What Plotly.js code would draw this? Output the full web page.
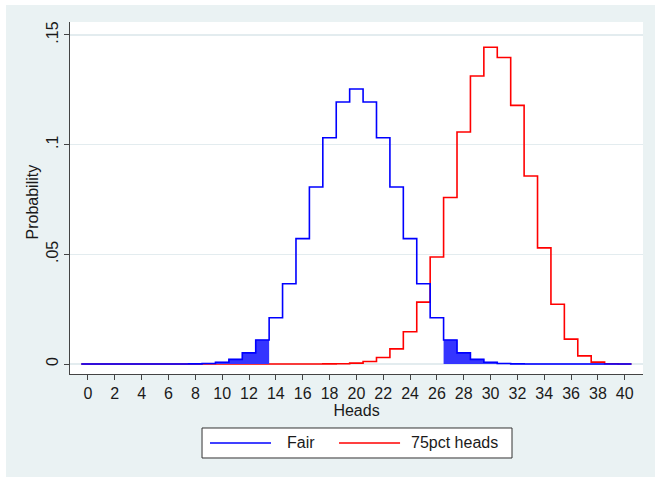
<!DOCTYPE html>
<html>
<head>
<meta charset="utf-8">
<script src="https://cdn.plot.ly/plotly-3.0.1.min.js"></script>
<style>
  html, body { margin: 0; padding: 0; background: #ffffff; }
  #chart { position: absolute; left: 6px; top: 5px; width: 649px; height: 472px; }
</style>
</head>
<body>
<div id="chart"></div>
<script>
// Number of heads in 40 tosses
const heads = [0,1,2,3,4,5,6,7,8,9,10,11,12,13,14,15,16,17,18,19,20,
               21,22,23,24,25,26,27,28,29,30,31,32,33,34,35,36,37,38,39,40];

// Probability of each count for a fair coin
const fair = [0,0,0,0,0,0,0.0000035,0.000017,0.00007,0.00025,0.00077,
              0.0021,0.00508,0.01094,0.02111,0.03658,0.05716,0.0807,0.10312,0.1194,0.12537,
              0.1194,0.10312,0.0807,0.05716,0.03658,0.02111,0.01094,0.00508,0.0021,0.00077,
              0.00025,0.00007,0.000017,0.0000035,0,0,0,0,0,0];

// Probability of each count for a coin that lands heads 75% of the time
const biased = [0,0,0,0,0,0,0,0,0,0,0,
                0,0,0,0,0,0.000002,0.00001,0.00004,0.00013,0.0004,
                0.00114,0.00294,0.00691,0.01468,0.02819,0.0488,0.07591,0.10573,0.13125,0.14437,
                0.13971,0.11788,0.08573,0.05295,0.02723,0.01135,0.00368,0.00087,0.00013,0.00001];

// Series names and colours, in legend order
const seriesNames = ['Fair', '75pct heads'];
const seriesColors = ['#0000ff', '#ff0000'];

// Shaded tails of the fair distribution
const lowTailMax = 13;
const highTailMin = 27;

const yTicks = [0, 0.05, 0.1, 0.15];
const yTickText = ['0', '.05', '.1', '.15'];
const xTicks = [0,2,4,6,8,10,12,14,16,18,20,22,24,26,28,30,32,34,36,38,40];

// Bars are one unit wide and centred on each count: build stair-step edges
function steps(xs, ys) {
  const sx = xs.map(v => v - 0.5);
  const sy = ys.slice();
  sx.push(xs[xs.length - 1] + 0.5);
  sy.push(ys[ys.length - 1]);
  return { x: sx, y: sy };
}

const fairSteps = steps(heads, fair);
const biasedSteps = steps(heads, biased);

const lowIdx = heads.map((h, i) => i).filter(i => heads[i] <= lowTailMax);
const highIdx = heads.map((h, i) => i).filter(i => heads[i] >= highTailMin);
const lowSteps = steps(lowIdx.map(i => heads[i]), lowIdx.map(i => fair[i]));
const highSteps = steps(highIdx.map(i => heads[i]), highIdx.map(i => fair[i]));

const fillColor = '#3535ff';

const traces = [
  {
    x: biasedSteps.x, y: biasedSteps.y, type: 'scatter', mode: 'lines',
    line: { shape: 'hv', color: seriesColors[1], width: 1.6 },
    name: seriesNames[1]
  },
  {
    x: lowSteps.x, y: lowSteps.y, type: 'scatter', mode: 'lines',
    line: { shape: 'hv', color: fillColor, width: 0.5 },
    fill: 'tozeroy', fillcolor: fillColor, hoverinfo: 'skip'
  },
  {
    x: highSteps.x, y: highSteps.y, type: 'scatter', mode: 'lines',
    line: { shape: 'hv', color: fillColor, width: 0.5 },
    fill: 'tozeroy', fillcolor: fillColor, hoverinfo: 'skip'
  },
  {
    x: fairSteps.x, y: fairSteps.y, type: 'scatter', mode: 'lines',
    line: { shape: 'hv', color: seriesColors[0], width: 1.6 },
    name: seriesNames[0]
  }
];

const axisFont = { family: 'Liberation Sans, Arial, sans-serif', size: 16, color: '#1a1a1a' };

// Boxed legend below the plot: frame, line keys and labels in paper units
const legendBox = { x0: 0.2304, x1: 0.7714, y0: -0.2386, y1: -0.1534 };
const legendRowY = -0.196;
const keyStarts = [0.2443, 0.4695];
const keyLength = 0.1065;
const labelStarts = [0.3752, 0.5916];

const shapes = [
  {
    type: 'rect', xref: 'paper', yref: 'paper',
    x0: legendBox.x0, x1: legendBox.x1, y0: legendBox.y0, y1: legendBox.y1,
    fillcolor: '#ffffff', line: { color: '#333333', width: 1 }
  }
];
const annotations = [
  {
    text: 'Probability', textangle: -90, xref: 'paper', yref: 'paper',
    x: -0.0646, y: 0.49, xanchor: 'center', yanchor: 'middle',
    showarrow: false, font: axisFont
  }
];
seriesNames.forEach((name, i) => {
  shapes.push({
    type: 'line', xref: 'paper', yref: 'paper',
    x0: keyStarts[i], x1: keyStarts[i] + keyLength, y0: legendRowY, y1: legendRowY,
    line: { color: seriesColors[i], width: 1.6 }
  });
  annotations.push({
    text: name, xref: 'paper', yref: 'paper',
    x: labelStarts[i], y: legendRowY, xanchor: 'left', yanchor: 'middle',
    showarrow: false, font: axisFont
  });
});

const layout = {
  width: 649, height: 472,
  paper_bgcolor: '#eaf2f3',
  plot_bgcolor: '#ffffff',
  margin: { l: 64, r: 12, t: 17, b: 103 },
  showlegend: false,
  font: axisFont,
  xaxis: {
    range: [-1.34, 41.36],
    tickvals: xTicks,
    ticks: 'outside', ticklen: 5, tickwidth: 1, tickcolor: '#444',
    showgrid: false, zeroline: false,
    showline: true, linecolor: '#444', linewidth: 1,
    tickfont: axisFont,
    title: { text: 'Heads', font: axisFont, standoff: 0 },
    fixedrange: true
  },
  yaxis: {
    range: [-0.00456, 0.1559],
    tickvals: yTicks, ticktext: yTickText,
    tickangle: -90,
    ticks: 'outside', ticklen: 5, tickwidth: 1, tickcolor: '#444',
    showgrid: true, gridcolor: '#e3ecef', gridwidth: 1.5,
    zeroline: false,
    showline: true, linecolor: '#444', linewidth: 1,
    tickfont: axisFont,
    fixedrange: true
  },
  shapes: shapes,
  annotations: annotations
};

Plotly.newPlot('chart', traces, layout, { displayModeBar: false, staticPlot: true });
</script>
</body>
</html>
